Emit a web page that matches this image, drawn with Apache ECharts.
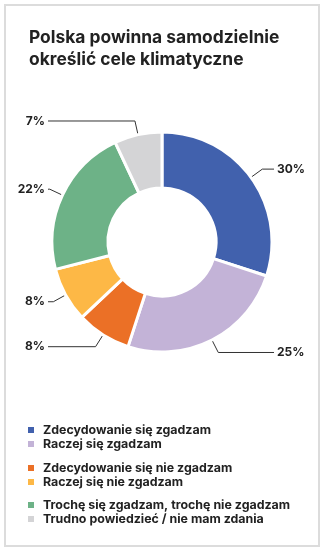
<!DOCTYPE html>
<html>
<head>
<meta charset="utf-8">
<script src="https://cdn.jsdelivr.net/npm/echarts@6/dist/echarts.min.js"></script>
<style>
  html, body { margin: 0; padding: 0; background: #fff; }
  #chart { width: 325px; height: 553px; }
</style>
</head>
<body>
<div id="chart"></div>
<script>
// Survey answers and their shares (%)
const categories = [
  'Zdecydowanie się zgadzam',
  'Raczej się zgadzam',
  'Zdecydowanie się nie zgadzam',
  'Raczej się nie zgadzam',
  'Trochę się zgadzam, trochę nie zgadzam',
  'Trudno powiedzieć / nie mam zdania'
];
const shares = [30, 25, 8, 8, 22, 7];
const titleText = 'Polska powinna samodzielnie\nokreślić cele klimatyczne';

// Palette
const palette = ['#4161ad', '#c3b3d7', '#eb7026', '#fdb846', '#6db287', '#d4d4d6'];
const FONT = 'Inter, Roboto, sans-serif';
const TEXT = '#222222';

const chart = echarts.init(document.getElementById('chart'), null, { renderer: 'canvas' });

const legendBase = {
  orient: 'vertical',
  left: 21,
  icon: 'rect',
  itemWidth: 8,
  itemHeight: 8,
  itemGap: 0,
  selectedMode: false,
  textStyle: { color: TEXT, fontFamily: FONT, fontWeight: 700, fontSize: 12.4, lineHeight: 14, padding: [0, 0, 0, 3] }
};

const LEFT_COL = 48, RIGHT_COL = 274;

chart.setOption({
  backgroundColor: '#ffffff',
  color: palette,
  animation: false,
  title: {
    text: titleText,
    left: 24,
    top: 22,
    textStyle: { color: TEXT, fontFamily: FONT, fontWeight: 700, fontSize: 17.4, lineHeight: 22 }
  },
  graphic: [{
    type: 'rect',
    shape: { x: 5, y: 5, width: 314, height: 541 },
    style: { fill: 'none', stroke: '#dcdcdc', lineWidth: 2 },
    silent: true
  }],
  legend: [
    Object.assign({ top: 418, data: categories.slice(0, 2) }, legendBase),
    Object.assign({ top: 456, data: categories.slice(2, 4) }, legendBase),
    Object.assign({ top: 493, data: categories.slice(4, 6) }, legendBase)
  ],
  series: [{
    type: 'pie',
    center: [162, 242],
    radius: [54, 110],
    startAngle: 90,
    clockwise: true,
    avoidLabelOverlap: false,
    itemStyle: { borderColor: '#ffffff', borderWidth: 3 },
    label: {
      show: true,
      formatter: '{c}%',
      color: TEXT,
      fontFamily: FONT,
      fontWeight: 700,
      fontSize: 12
    },
    labelLine: {
      show: true,
      length: 14,
      length2: 8,
      lineStyle: { color: '#333333', width: 1 }
    },
    // Labels sit in two columns, lines run horizontally out to them
    labelLayout: function (p) {
      const pts = p.labelLinePoints;
      if (!pts) return {};
      const isLeft = pts[1][0] < pts[0][0];
      pts[2][0] = isLeft ? LEFT_COL : RIGHT_COL;
      return {
        x: isLeft ? LEFT_COL - 3 : RIGHT_COL + 3,
        y: pts[2][1],
        align: isLeft ? 'right' : 'left',
        verticalAlign: 'middle',
        labelLinePoints: pts
      };
    },
    emphasis: { disabled: true },
    data: categories.map((name, i) => ({ name: name, value: shares[i] }))
  }]
});
</script>
</body>
</html>
